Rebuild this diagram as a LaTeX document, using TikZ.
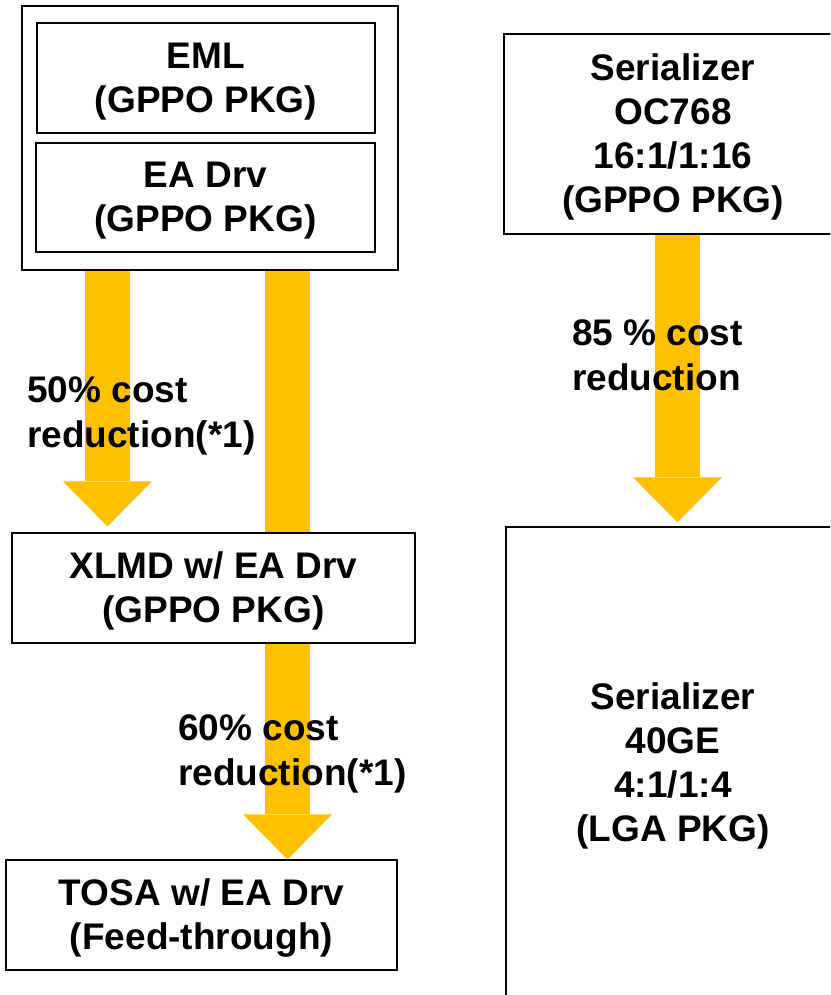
\documentclass[tikz,border=0pt]{standalone}
\usepackage{fontspec}
\setmainfont{Liberation Sans}
\usetikzlibrary{arrows.meta}
\definecolor{costyellow}{HTML}{FFC000}

\begin{document}
\begin{tikzpicture}
  [ x=1pt, y=-1pt
  , frame/.style={rectangle, draw, line width=1.2pt}
  , part/.style={rectangle, draw, line width=1.2pt, inner sep=0pt, align=center, text depth=1pt, font=\fontsize{37}{44}\selectfont\bfseries}
  , saving/.style={inner sep=0pt, align=left, anchor=base west, font=\fontsize{37}{44.5}\selectfont\bfseries}
  , bar/.style={line width=45pt, draw=costyellow}
  , cut/.style={bar, -{Triangle[length=45pt, width=89pt, line width=0pt]}}]
  \useasboundingbox (0,0) rectangle (830,995);
  \clip (0,0) rectangle (830,995);
  \node (0) at (210, 138) [frame, minimum width=376pt, minimum height=264pt] {};
  \node (1) at (206, 78) [part, minimum width=338pt, minimum height=110pt] {EML\\(GPPO PKG)};
  \node (2) at (205.5, 197.5) [part, minimum width=339pt, minimum height=109pt] {EA Drv\\(GPPO PKG)};
  \node (3) at (213.5, 588) [part, minimum width=403pt, minimum height=110pt] {XLMD w/ EA Drv\\(GPPO PKG)};
  \node (4) at (201.5, 915) [part, minimum width=391pt, minimum height=110pt] {TOSA w/ EA Drv\\(Feed-through)};
  \node (5) at (673, 134) [part, minimum width=338pt, minimum height=200pt] {Serializer\\OC768\\16:1/1:16\\(GPPO PKG)};
  \node (6) at (673, 763) [part, minimum width=334pt, minimum height=472pt] {Serializer\\40GE\\4:1/1:4\\(LGA PKG)};
  \draw [cut] ([xshift=-102.5pt]0.south) -- ([xshift=-106pt, yshift=6pt]3.north);
  \draw [bar] ([xshift=77.5pt]0.south) -- ([xshift=74pt]3.north);
  \draw [cut] ([xshift=74pt]3.south) -- ([xshift=86pt]4.north);
  \draw [cut] ([xshift=4.5pt]5.south) -- ([xshift=4.5pt, yshift=4pt]6.north);
  \node (7) at (27, 447) [saving] {50\% cost\\reduction(*1)};
  \node (8) at (178, 785) [saving] {60\% cost\\reduction(*1)};
  \node (9) at (572, 390) [saving] {85 \% cost\\reduction};
\end{tikzpicture}
\end{document}
